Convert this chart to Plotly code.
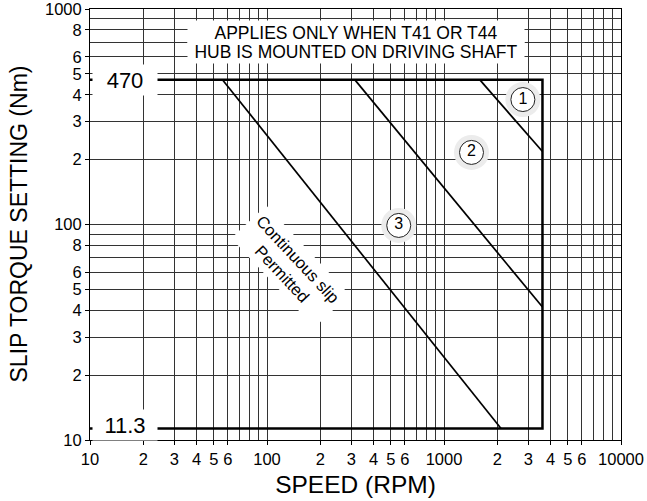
import plotly.graph_objects as go

# limits of the permitted region
box_speed = [10, 3600, 3600, 10]
box_torque = [470, 470, 11.3, 11.3]

# the three boundary lines (speed in RPM, torque in Nm)
line1_speed = [1590, 3600]
line1_torque = [470, 218]
line2_speed = [313, 3600]
line2_torque = [470, 41.4]
line3_speed = [56, 2100]
line3_torque = [470, 11.3]

# circled labels
label_names = ["1", "2", "3"]
label_speed = [2790, 1430, 555]
label_torque = [380, 216, 99]

x_major = [10, 20, 30, 40, 50, 60, 100, 200, 300, 400, 500, 600,
           1000, 2000, 3000, 4000, 5000, 6000, 10000]
x_major_text = ["10", "2", "3", "4", "5", "6", "100", "2", "3", "4", "5", "6",
                "1000", "2", "3", "4", "5", "6", "10000"]
x_minor = [70, 80, 90, 700, 800, 900, 7000, 8000, 9000]

y_major = [10, 20, 30, 40, 50, 60, 80, 100, 200, 300, 400, 500, 600, 800, 1000]
y_major_text = ["10", "2", "3", "4", "5", "6", "8", "100", "2", "3", "4", "5",
                "6", "8", "1000"]
y_minor = [70, 90, 700, 900]

FONT = "Liberation Sans, Arial, sans-serif"

fig = go.Figure()

fig.add_trace(go.Scatter(x=box_speed, y=box_torque, mode="lines",
                         line=dict(color="black", width=2.5), hoverinfo="skip"))
for xs, ys in [(line1_speed, line1_torque), (line2_speed, line2_torque),
               (line3_speed, line3_torque)]:
    fig.add_trace(go.Scatter(x=xs, y=ys, mode="lines",
                             line=dict(color="black", width=1.7), hoverinfo="skip"))

# grey halo + circle + number
fig.add_trace(go.Scatter(x=label_speed, y=label_torque, mode="markers",
                         marker=dict(size=35, color="#ececec", line=dict(width=0)),
                         hoverinfo="skip"))
fig.add_trace(go.Scatter(x=label_speed, y=label_torque, mode="markers+text",
                         marker=dict(size=24, color="white",
                                     line=dict(color="#222", width=1)),
                         text=label_names, textposition="middle center",
                         textfont=dict(size=16, color="black", family=FONT),
                         hoverinfo="skip"))

fig.add_annotation(x=1.195, y=2.672, xref="x", yref="y", text="470",
                   showarrow=False, bgcolor="white", width=62, height=28,
                   font=dict(size=22, color="black", family=FONT))
fig.add_annotation(x=1.195, y=1.07, xref="x", yref="y", text="11.3",
                   showarrow=False, bgcolor="white", width=62, height=28,
                   font=dict(size=22, color="black", family=FONT))
note_lines = ["APPLIES ONLY WHEN T41 OR T44", "HUB IS MOUNTED ON DRIVING SHAFT"]
for txt, yy in zip(note_lines, [2.892, 2.801]):
    fig.add_annotation(x=2.505, y=yy, xref="x", yref="y", text=txt,
                       showarrow=False, bgcolor="white", width=334, height=21,
                       borderpad=1,
                       font=dict(size=17.5, color="black", family=FONT))
fig.add_annotation(x=2.133, y=1.806, xref="x", yref="y",
                   text="Continuous slip<br>Permitted", textangle=47,
                   showarrow=False, bgcolor="white", borderpad=4,
                   font=dict(size=16.5, color="black", family=FONT))

# y axis title placed by hand
fig.add_annotation(x=-0.134, y=0.502, xref="paper", yref="paper",
                   text="SLIP TORQUE SETTING (Nm)", textangle=-90,
                   showarrow=False, xanchor="center", yanchor="middle",
                   font=dict(size=23, color="black", family=FONT))

fig.update_xaxes(type="log", range=[1, 4], tickvals=x_major, ticktext=x_major_text,
                 showgrid=True, gridcolor="#333", gridwidth=1,
                 ticks="outside", ticklen=4, tickcolor="black",
                 showline=True, linecolor="black", linewidth=1, mirror=True,
                 minor=dict(tickvals=x_minor, showgrid=True, gridcolor="#333",
                            gridwidth=1, ticks=""),
                 tickfont=dict(size=16.5, color="black", family=FONT),
                 ticklabeloverflow="allow",
                 title=dict(text="SPEED (RPM)", standoff=9,
                            font=dict(size=24.5, color="black", family=FONT)),
                 automargin=False, zeroline=False)
fig.update_yaxes(type="log", range=[1, 3], tickvals=y_major, ticktext=y_major_text,
                 showgrid=True, gridcolor="#333", gridwidth=1,
                 ticks="outside", ticklen=4, tickcolor="black",
                 showline=True, linecolor="black", linewidth=1, mirror=True,
                 minor=dict(tickvals=y_minor, showgrid=True, gridcolor="#333",
                            gridwidth=1, ticks=""),
                 tickfont=dict(size=16.5, color="black", family=FONT),
                 ticklabeloverflow="allow",
                 automargin=False, zeroline=False)

fig.update_layout(width=647, height=501, showlegend=False,
                  margin=dict(l=90, r=26, t=9, b=61),
                  plot_bgcolor="white", paper_bgcolor="white")

# the page's default body margin would shift the chart by 8px
fig.write_html("out.html", config={"displayModeBar": False},
               post_script="document.body.style.margin='0';")
